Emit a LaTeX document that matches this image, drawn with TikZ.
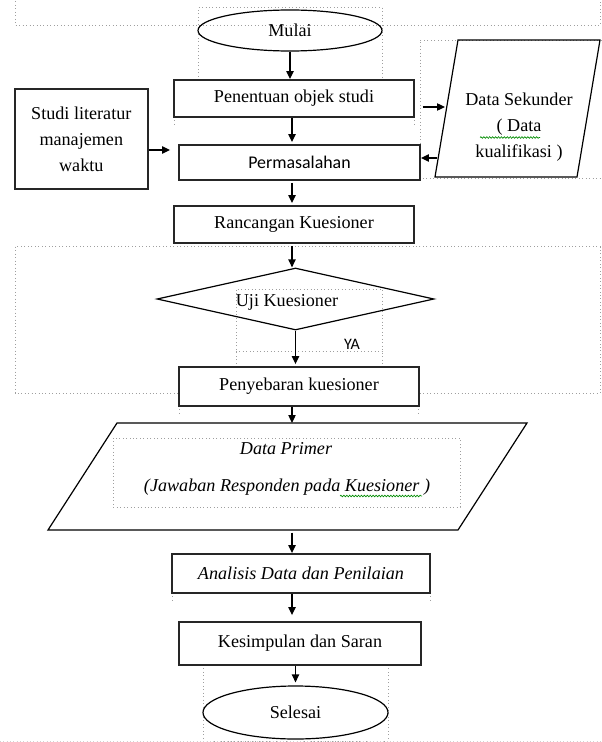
\documentclass[tikz,border=0pt]{standalone}
\usepackage{fontspec}
\setmainfont{Liberation Serif}
\newfontfamily\calib{Carlito}
\usetikzlibrary{arrows.meta,shapes.geometric,decorations.pathmorphing,calc}
\begin{document}
\begin{tikzpicture}[x=0.75pt,y=-0.75pt,
  font=\fontsize{13.6}{15}\selectfont,
  box/.style={draw=black!85,line width=1.4pt,rectangle,inner sep=0pt,align=center,fill=white},
  oval/.style={draw,line width=0.9pt,ellipse,inner sep=0pt},
  dotl/.style={draw=gray!75,dotted,line width=0.6pt},
  arr/.style={draw,line width=0.9pt,-{Triangle[length=6pt,width=5.5pt]}},
  squig/.style={draw=green!55!black,line width=0.5pt,decorate,decoration={snake,amplitude=0.6pt,segment length=2.2pt}},
  slant/.style={draw,line width=0.9pt,line join=miter}
]
\useasboundingbox (0,0) rectangle (601,742);
\fill[white] (0,0) rectangle (601,742);

% dotted frames
\draw[dotl] (15,-2) -- (15,25) -- (600,25) -- (600,-2);
\draw[dotl] (198.5,80) -- (198.5,7.3) -- (382,7.3) -- (382,80);
\draw[dotl] (174,117) -- (174,127);
\draw[dotl] (414,117) -- (414,127);
\draw[dotl] (605,40) -- (420,40) -- (420,178) -- (605,178);
\draw[dotl] (15,246.7) rectangle (600,393);
\draw[dotl] (236,367) -- (236,289) -- (382,289) -- (382,367);
\draw[dotl] (236,351) -- (382,351);
\draw[dotl] (179,406) -- (179,414);
\draw[dotl] (418,406) -- (418,414);
\draw[dotl] (113,438) rectangle (460,507);
\draw[dotl] (172,593) -- (172,600);
\draw[dotl] (430,593) -- (430,600);
\draw[dotl] (203,665) -- (203,741) -- (388,741) -- (388,665);
\draw[gray!35,dotted,line width=0.5pt] (0,741) -- (601,741);

% helper coordinates
\coordinate (spine) at (292,0);
\coordinate (hS) at (0,150);
\coordinate (dsF) at (421.6,107);
\coordinate (dsE) at (445,107);
\coordinate (dsR) at (437,158);

% nodes
\node[oval,minimum width=138pt,minimum height=30.75pt] (mulai) at (290,30.5) {Mulai};
\node[box,minimum width=180pt,minimum height=27.75pt] (penentuan) at (294,98.5) {Penentuan objek studi};
\node[box,minimum width=100pt,minimum height=75pt,font=\fontsize{13.6}{19.5}\selectfont] (studi) at (81.3,139) {Studi literatur\\manajemen\\waktu};
\node[box,minimum width=180.75pt,minimum height=26.25pt,font=\calib\fontsize{13.4}{15}\selectfont] (perm) at (299.5,162.5) {Permasalahan};

\coordinate (ds1) at (458,40);
\coordinate (ds2) at (600,40);
\coordinate (ds3) at (577,177);
\coordinate (ds4) at (435,177);
\draw[slant] (ds1) -- (ds2) -- (ds3) -- (ds4) -- cycle;
\node[align=center,font=\fontsize{13.6}{19.5}\selectfont] (ds) at (519,127) {Data Sekunder\\( Data\\kualifikasi )};
\draw[squig] (480,137.5) -- (540,137.5);

\node[box,minimum width=180pt,minimum height=27.75pt] (ranc) at (294,224.5) {Rancangan Kuesioner};

\node[diamond,draw,line width=0.9pt,minimum width=207.75pt,minimum height=46.5pt,inner sep=0pt] (uji) at (295.5,299) {};
\node (ujit) at (287,302) {Uji Kuesioner};
\node[font=\calib\fontsize{12}{14}\selectfont] (ya) at (352,344) {YA};

\node[box,minimum width=180pt,minimum height=29.25pt] (peny) at (299,386.5) {Penyebaran kuesioner};

\coordinate (dp1) at (117,423);
\coordinate (dp2) at (527,423);
\coordinate (dp3) at (458,530);
\coordinate (dp4) at (48,530);
\draw[slant] (dp1) -- (dp2) -- (dp3) -- (dp4) -- cycle;
\node[font=\itshape\fontsize{13.6}{15}\selectfont] (dpt1) at (286,449) {Data Primer};
\node[font=\itshape\fontsize{13.6}{15}\selectfont] (dpt2) at (287,487) {(Jawaban Responden pada Kuesioner )};
\draw[squig] (340,496) -- (422,496);

\node[box,minimum width=193.5pt,minimum height=29.25pt,font=\itshape\fontsize{13.6}{15}\selectfont] (anal) at (301,573.5) {Analisis Data dan Penilaian};
\node[box,minimum width=181.5pt,minimum height=32.25pt] (kes) at (300,643.5) {Kesimpulan dan Saran};
\node[oval,minimum width=138.75pt,minimum height=39.75pt] (sel) at (295.5,712.5) {Selesai};

% connectors
\draw[arr] (mulai.south) -- (mulai.south |- penentuan.north);
\draw[arr,shorten >=1.5pt] (spine |- penentuan.south) -- (spine |- perm.north);
\draw[arr,shorten >=1.5pt,shorten <=1.5pt] (spine |- perm.south) -- (spine |- ranc.north);
\draw[arr,shorten <=1.5pt] (spine |- ranc.south) -- (spine |- uji.north);
\draw[arr,shorten >=1.5pt] (uji.south) -- (uji.south |- peny.north);
\draw[arr] (spine |- peny.south) -- (spine |- dp1);
\draw[arr,shorten <=2pt] (spine |- dp4) -- (spine |- anal.north);
\draw[arr,shorten >=4.5pt] (spine |- anal.south) -- (spine |- kes.north);
\draw[arr,shorten >=2.25pt] (sel.north |- kes.south) -- (sel.north);
\draw[arr,shorten >=6pt] (studi.east |- hS) -- (perm.west |- hS);
\draw[arr,shorten <=5.7pt] (penentuan.east |- dsF) -- (dsE);
\draw[arr] (dsR) -- (perm.east |- dsR);
\end{tikzpicture}
\end{document}
